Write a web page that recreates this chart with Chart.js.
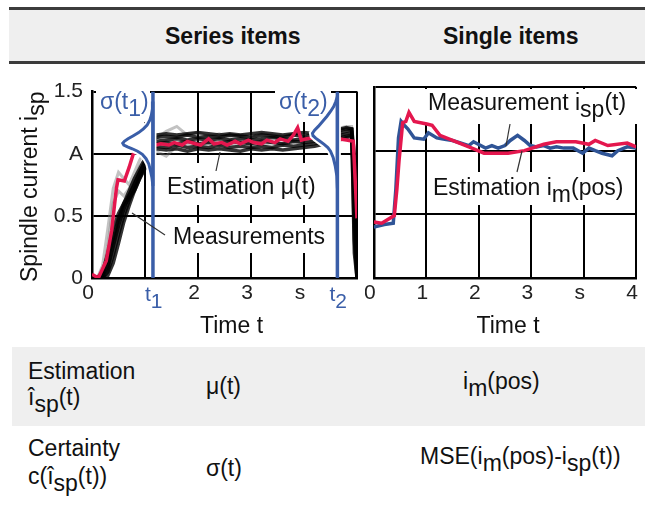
<!DOCTYPE html>
<html>
<head>
<meta charset="utf-8">
<script src="https://cdn.jsdelivr.net/npm/chart.js@4.4.1/dist/chart.umd.min.js"></script>
<style>
  body { margin: 0; width: 645px; height: 507px; position: relative; background: #fff; overflow: hidden;
         font-family: "Liberation Sans", Arial, sans-serif; color: #111; }
  .box { position: absolute; }
  .txt { position: absolute; font-size: 23px; line-height: 1; white-space: nowrap; }
  .txt sub { font-size: 1em; vertical-align: -0.3em; line-height: 0; }
  canvas { position: absolute; }
</style>
</head>
<body>
<!-- header row -->
<div class="box" style="left:9px;top:10px;width:636px;height:52px;background:#efefef"></div>
<div class="box" style="left:9px;top:7px;width:636px;height:3px;background:#3c3c3c"></div>
<div class="box" style="left:9px;top:61px;width:636px;height:3px;background:#3c3c3c"></div>
<div class="txt" style="left:165px;top:25px;font-weight:bold">Series items</div>
<div class="txt" style="left:443px;top:25px;font-weight:bold">Single items</div>

<canvas id="seriesChart" width="365" height="270" style="left:0;top:70px"></canvas>
<canvas id="singleChart" width="280" height="270" style="left:365px;top:70px"></canvas>

<!-- lower rows -->
<div class="box" style="left:12px;top:347px;width:633px;height:79px;background:#efefef"></div>
<div class="txt" style="left:28px;top:360px">Estimation</div>
<div class="txt" style="left:28px;top:386px">î<sub>sp</sub>(t)</div>
<div class="txt" style="left:206px;top:375px">μ(t)</div>
<div class="txt" style="left:463px;top:370px">i<sub>m</sub>(pos)</div>
<div class="txt" style="left:28px;top:437px">Certainty</div>
<div class="txt" style="left:28px;top:465px">c(î<sub>sp</sub>(t))</div>
<div class="txt" style="left:206px;top:457px">σ(t)</div>
<div class="txt" style="left:420px;top:445px">MSE(i<sub>m</sub>(pos)-i<sub>sp</sub>(t))</div>

<script>
// ---- series items (left chart) ----
const seriesTickLabels = ['0', '', '2', '3', 's', ''];
const currentTickLabels = ['0', '0.5', 'A', '1.5'];
const t1 = 1.15;
const t2 = 4.63;

const measTime = [0, 0.1, 0.2, 0.3, 0.4, 0.5, 0.6, 0.7, 0.8, 0.9, 1.0, 1.1, 1.2, 1.4, 1.6, 1.8, 2.0,
  2.2, 2.4, 2.6, 2.8, 3.0, 3.2, 3.4, 3.6, 3.8, 4.0, 4.2, 4.4, 4.6, 4.8, 4.9, 4.95, 5.0];
const measA = [0, 0, 0.03, 0.15, 0.32, 0.48, 0.6, 0.7, 0.8, 0.88, 0.96, 1.02, 1.06, 1.05, 1.07, 1.05, 1.06,
  1.05, 1.07, 1.05, 1.06, 1.05, 1.06, 1.05, 1.07, 1.06, 1.07, 1.08, 1.1, 1.12, 1.14, 1.15, 0.9, 0];
const measB = [0, 0, 0, 0.08, 0.25, 0.42, 0.55, 0.66, 0.76, 0.85, 0.93, 1.0, 1.08, 1.09, 1.08, 1.1, 1.08,
  1.09, 1.08, 1.1, 1.09, 1.08, 1.1, 1.09, 1.08, 1.1, 1.09, 1.1, 1.12, 1.14, 1.16, 1.17, 0.6, 0];
const measC = [0, 0, 0, 0.05, 0.18, 0.35, 0.5, 0.62, 0.72, 0.82, 0.9, 0.98, 1.1, 1.11, 1.12, 1.11, 1.12,
  1.11, 1.12, 1.11, 1.12, 1.11, 1.12, 1.13, 1.12, 1.11, 1.12, 1.13, 1.14, 1.16, 1.18, 1.19, 0.3, 0];
const measD = [0, 0, 0.05, 0.2, 0.4, 0.52, 0.6, 0.67, 0.75, 0.85, 0.94, 1.03, 1.13, 1.14, 1.13, 1.15, 1.13,
  1.14, 1.13, 1.15, 1.14, 1.13, 1.15, 1.14, 1.13, 1.15, 1.14, 1.15, 1.16, 1.18, 1.2, 1.2, 1.0, 0.05];
const measE = [0, 0, 0, 0.02, 0.12, 0.28, 0.45, 0.58, 0.7, 0.8, 0.88, 0.97, 1.15, 1.16, 1.15, 1.16, 1.17,
  1.16, 1.15, 1.16, 1.15, 1.16, 1.17, 1.16, 1.15, 1.16, 1.17, 1.16, 1.17, 1.19, 1.21, 1.2, 0.2, 0];
const measF = [0, 0, 0.02, 0.1, 0.28, 0.45, 0.58, 0.64, 0.7, 0.8, 0.9, 1.0, 1.04, 1.03, 1.04, 1.02, 1.04,
  1.03, 1.04, 1.03, 1.02, 1.04, 1.03, 1.04, 1.03, 1.04, 1.05, 1.06, 1.08, 1.1, 1.13, 1.14, 0.7, 0];
const measGrayA = [0, 0, 0.1, 0.4, 0.72, 0.85, 0.8, 0.75, 0.85, 0.95, 1.02, 1.08, 1.12, 1.18, 1.22, 1.15, 1.17,
  1.14, 1.16, 1.13, 1.15, 1.14, 1.16, 1.15, 1.14, 1.16, 1.15, 1.17, 1.18, 1.2, 1.22, 1.22, 0.9, 0.1];
const measGrayB = [0, 0, 0.04, 0.25, 0.6, 0.7, 0.66, 0.72, 0.8, 0.9, 0.96, 1.0, 1.02, 0.98, 1.06, 1.08, 1.07,
  1.09, 1.08, 1.07, 1.09, 1.08, 1.07, 1.09, 1.08, 1.09, 1.1, 1.11, 1.12, 1.14, 1.15, 1.16, 0.5, 0];

const muTime = [0, 0.12, 0.27, 0.37, 0.46, 0.49, 0.61, 0.7, 0.78, 1.0, 1.2, 1.3, 1.45, 1.55, 1.7, 1.8, 1.95,
  2.05, 2.2, 2.3, 2.45, 2.55, 2.7, 2.8, 2.95, 3.05, 3.2, 3.3, 3.45, 3.55, 3.7, 3.8, 3.88, 3.95, 4.05, 4.2,
  4.65, 4.8, 4.93, 4.97, 5.0];
const muValue = [0.03, 0, 0.14, 0.38, 0.72, 0.79, 0.78, 0.89, 1.0, 1.05, 1.07, 1.08, 1.07, 1.09, 1.07, 1.1, 1.08,
  1.07, 1.12, 1.08, 1.09, 1.07, 1.1, 1.08, 1.11, 1.09, 1.08, 1.11, 1.09, 1.12, 1.1, 1.15, 1.21, 1.11, 1.12, 1.13,
  1.12, 1.11, 1.1, 0.75, 0.48];

// gaussian outlines: [time, current]
const sigma1Shape = [[1.15, 1.42], [1.14, 1.36], [1.12, 1.31], [1.09, 1.27], [1.04, 1.23], [0.97, 1.2],
  [0.88, 1.17], [0.78, 1.145], [0.68, 1.12], [0.61, 1.10], [0.58, 1.085], [0.6, 1.07], [0.67, 1.055],
  [0.76, 1.04], [0.86, 1.02], [0.95, 0.995], [1.02, 0.96], [1.07, 0.92], [1.1, 0.87], [1.13, 0.81],
  [1.15, 0.74], [1.15, 1.42]];
const sigma2Shape = [[4.63, 1.46], [4.6, 1.42], [4.56, 1.38], [4.5, 1.34], [4.43, 1.3], [4.35, 1.26],
  [4.27, 1.22], [4.2, 1.19], [4.16, 1.165], [4.17, 1.145], [4.22, 1.125], [4.3, 1.1], [4.38, 1.075],
  [4.45, 1.05], [4.5, 1.02], [4.55, 0.97], [4.59, 0.9], [4.62, 0.82], [4.63, 0.72], [4.63, 1.46]];

// ---- single items (right chart) ----
const singleTickLabels = ['0', '1', '2', '3', 's', '4'];
const singleMeasTime = [0, 0.2, 0.37, 0.42, 0.47, 0.52, 0.58, 0.65, 0.77, 0.95, 1.04, 1.2, 1.35, 1.5, 1.65, 1.81,
  1.9, 2.13, 2.25, 2.37, 2.5, 2.6, 2.74, 2.87, 2.98, 3.1, 3.24, 3.36, 3.48, 3.62, 3.8, 3.98, 4.1, 4.22, 4.35,
  4.54, 4.65, 4.83, 5.0];
const singleMeasValue = [0.40, 0.42, 0.43, 0.7, 1.1, 1.23, 1.2, 1.17, 1.10, 1.09, 1.14, 1.1, 1.09, 1.08, 1.06, 1.04,
  1.07, 1.02, 1.04, 1.02, 1.04, 1.08, 1.12, 1.08, 1.04, 1.03, 1.04, 1.02, 1.03, 1.02, 1.02, 0.98, 1.02, 1.0, 0.98,
  0.96, 1.0, 1.03, 1.02];
const singleEstTime = [0, 0.15, 0.39, 0.44, 0.48, 0.55, 0.61, 0.67, 0.77, 1.01, 1.11, 1.26, 1.5, 1.87, 2.1, 2.56,
  2.87, 3.24, 3.48, 3.85, 4.1, 4.22, 4.46, 4.83, 5.0];
const singleEstValue = [0.44, 0.43, 0.49, 0.7, 0.92, 1.22, 1.23, 1.3, 1.23, 1.21, 1.2, 1.12, 1.08, 1.02, 0.98, 0.98,
  1.0, 1.05, 1.07, 1.07, 1.05, 1.08, 1.04, 1.06, 1.03];

const FONT = '"Liberation Sans", Arial, sans-serif';
const RED = '#e4174e';
const SIGMA_BLUE = '#3a5ea8';
const LINE_BLUE = '#2f5496';

const toPoints = (xs, ys) => xs.map((x, i) => ({ x, y: ys[i] }));
const pairPoints = arr => arr.map(([x, y]) => ({ x, y }));

// draws text with lowered (subscript) parts, baseline at y
function drawRich(ctx, parts, x, y, color, size) {
  ctx.save();
  ctx.font = `${size || 23}px ${FONT}`;
  ctx.fillStyle = color || '#111';
  ctx.textAlign = 'left';
  ctx.textBaseline = 'alphabetic';
  let cx = x;
  for (const [s, sub] of parts) {
    ctx.fillText(s, cx, y + (sub ? 7 : 0));
    cx += ctx.measureText(s).width;
  }
  ctx.restore();
}

function leader(ctx, x1, y1, x2, y2) {
  ctx.save();
  ctx.strokeStyle = '#333';
  ctx.lineWidth = 1.2;
  ctx.beginPath(); ctx.moveTo(x1, y1); ctx.lineTo(x2, y2); ctx.stroke();
  ctx.restore();
}

// white boxes behind labels (hide the grid), then texts on top
const labelPlugin = {
  id: 'labels',
  beforeDatasetsDraw(chart, args, opts) {
    const ctx = chart.ctx;
    ctx.save();
    ctx.fillStyle = '#fff';
    for (const b of opts.boxes || []) ctx.fillRect(b[0], b[1], b[2] - b[0], b[3] - b[1]);
    ctx.restore();
  },
  afterDraw(chart, args, opts) {
    const ctx = chart.ctx;
    for (const l of opts.leaders || []) leader(ctx, ...l);
    for (const t of opts.texts || []) drawRich(ctx, t.parts, t.x, t.y, t.color, t.size);
    if (opts.extra) opts.extra(chart);
  }
};

function axisTitles(chart, yTitle) {
  const ctx = chart.ctx;
  const { left, right } = chart.chartArea;
  ctx.save();
  ctx.font = `23px ${FONT}`;
  ctx.fillStyle = '#111';
  ctx.textAlign = 'center';
  ctx.textBaseline = 'alphabetic';
  ctx.fillText('Time t', (left + right) / 2 + (yTitle ? 7 : 3), 263);
  ctx.restore();
  if (yTitle) {
    ctx.save();
    ctx.translate(37, 212);
    ctx.rotate(-Math.PI / 2);
    drawRich(ctx, [['Spindle current i', false], ['sp', true]], 0, 0);
    ctx.restore();
  }
}

function baseScales(xLabels, showY) {
  return {
    x: {
      type: 'linear', min: 0, max: 5,
      afterFit: s => { s.height = 62; },
      grid: { color: '#000', lineWidth: 2, drawTicks: false },
      border: { color: '#000', width: 2.5 },
      ticks: {
        stepSize: 1, autoSkip: false, maxRotation: 0, padding: 3, labelOffset: -4,
        color: '#222', font: { family: FONT, size: 21 },
        callback: v => xLabels[Math.round(v)] ?? ''
      }
    },
    y: {
      min: 0, max: 1.5,
      afterFit: s => { s.width = showY ? 92 : 0; },
      grid: { color: '#000', lineWidth: 2, drawTicks: false },
      border: { color: '#000', width: 2.5 },
      ticks: {
        display: showY, stepSize: 0.5, padding: 9,
        color: '#222', font: { family: FONT, size: 21 },
        callback: v => currentTickLabels[Math.round(v / 0.5)] ?? ''
      }
    }
  };
}

const common = {
  responsive: false,
  animation: false,
  events: [],
  elements: { point: { radius: 0 }, line: { tension: 0 } },
  plugins: { legend: { display: false }, tooltip: { enabled: false } }
};

const black = 'rgba(0,0,0,0.8)';
const gray = 'rgba(120,120,120,0.45)';
const measDataset = (vals, color) => ({
  data: toPoints(measTime, vals), borderColor: color, borderWidth: color === black ? 3.5 : 3,
  fill: false, order: color === black ? 5 : 6
});

new Chart(document.getElementById('seriesChart'), {
  type: 'line',
  data: {
    datasets: [
      { data: [{ x: t1, y: 0 }, { x: t1, y: 1.5 }], borderColor: SIGMA_BLUE, borderWidth: 3.5, order: 0 },
      { data: [{ x: t2, y: 0 }, { x: t2, y: 1.5 }], borderColor: SIGMA_BLUE, borderWidth: 3.5, order: 0 },
      { data: pairPoints(sigma1Shape), borderColor: SIGMA_BLUE, backgroundColor: '#fff', borderWidth: 3, fill: 'shape', order: 1 },
      { data: pairPoints(sigma2Shape), borderColor: SIGMA_BLUE, backgroundColor: '#fff', borderWidth: 3, fill: 'shape', order: 1 },
      { data: pairPoints(sigma1Shape), borderColor: '#fff', borderWidth: 7, fill: false, order: 2 },
      { data: pairPoints(sigma2Shape), borderColor: '#fff', borderWidth: 7, fill: false, order: 2 },
      { data: toPoints(muTime, muValue), borderColor: RED, borderWidth: 3.5, fill: false, order: 3 },
      measDataset(measA, black),
      measDataset(measB, black),
      measDataset(measC, black),
      measDataset(measD, black),
      measDataset(measE, black),
      measDataset(measF, black),
      measDataset(measGrayA, gray),
      measDataset(measGrayB, gray)
    ]
  },
  options: {
    ...common,
    layout: { padding: { left: 0, right: 8, top: 17, bottom: 0 } },
    scales: baseScales(seriesTickLabels, true),
    plugins: {
      ...common.plugins,
      labels: {
        boxes: [[162, 93, 326, 135], [167, 153, 334, 183], [96, 20, 150, 52], [275, 20, 331, 52]],
        leaders: [[220, 82, 216, 101], [165, 165, 132, 143]],
        texts: [
          { parts: [['Estimation μ(t)', false]], x: 167, y: 123.5 },
          { parts: [['Measurements', false]], x: 173, y: 173.5 },
          { parts: [['σ(t', false], ['1', true], [')', false]], x: 100, y: 39, color: SIGMA_BLUE },
          { parts: [['σ(t', false], ['2', true], [')', false]], x: 279, y: 39, color: SIGMA_BLUE }
        ],
        extra: chart => {
          axisTitles(chart, true);
          const xs = chart.scales.x;
          const y = xs.top + 23;
          drawRich(chart.ctx, [['t', false], ['1', true]], xs.getPixelForValue(t1) - 8, y, SIGMA_BLUE, 21);
          drawRich(chart.ctx, [['t', false], ['2', true]], xs.getPixelForValue(t2) - 8, y, SIGMA_BLUE, 21);
        }
      }
    }
  },
  plugins: [labelPlugin]
});

new Chart(document.getElementById('singleChart'), {
  type: 'line',
  data: {
    datasets: [
      { data: toPoints(singleEstTime, singleEstValue), borderColor: RED, borderWidth: 3.5, fill: false, order: 0 },
      { data: toPoints(singleMeasTime, singleMeasValue), borderColor: LINE_BLUE, borderWidth: 3.5, fill: false, order: 1 }
    ]
  },
  options: {
    ...common,
    layout: { padding: { left: 7, right: 3, top: 17, bottom: 0 } },
    scales: baseScales(singleTickLabels, false),
    plugins: {
      ...common.plugins,
      labels: {
        boxes: [[57, 19, 274, 54], [63, 102, 267, 135]],
        leaders: [[145, 54, 141, 76], [152, 102, 157, 81]],
        texts: [
          { parts: [['Measurement i', false], ['sp', true], ['(t)', false]], x: 63, y: 39.5 },
          { parts: [['Estimation i', false], ['m', true], ['(pos)', false]], x: 68, y: 124.5 }
        ],
        extra: chart => axisTitles(chart, false)
      }
    }
  },
  plugins: [labelPlugin]
});
</script>
</body>
</html>
